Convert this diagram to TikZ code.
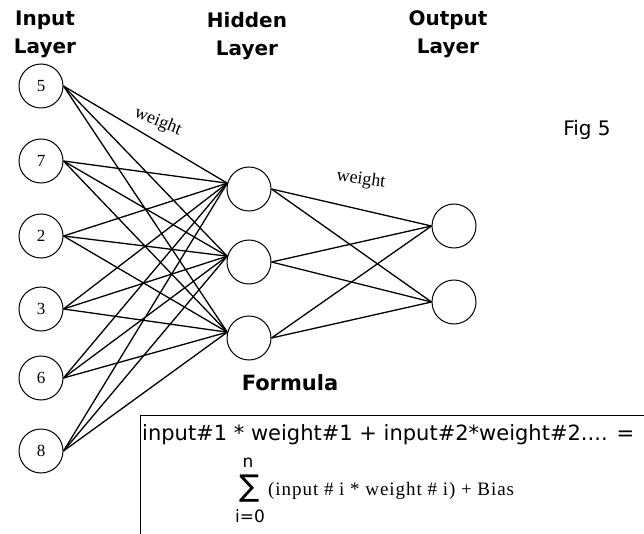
\documentclass[tikz,border=0pt]{standalone}
\usepackage{fontspec}
\setmainfont{Liberation Serif}
\setsansfont{DejaVu Sans}

\begin{document}
\begin{tikzpicture}[
  x=1pt, y=-1pt,
  nn/.style={draw, circle, line width=1pt, minimum size=44pt, inner sep=0pt, font=\fontsize{17}{17}\selectfont},
  hd/.style={align=center, font=\sffamily\bfseries\fontsize{20}{28}\selectfont},
  wt/.style={font=\fontsize{18}{18}\selectfont},
  ln/.style={line width=1.3pt}]

\useasboundingbox (0,0) rectangle (644,534);
\clip (0,0) rectangle (644,534);

% ---------------- headings ----------------
\node[hd] (tin) at (45, 34) {Input\\Layer};
\node[hd] (thid) at (247, 36) {Hidden\\Layer};
\node[hd] (tout) at (448, 34) {Output\\Layer};
\node[font=\sffamily\fontsize{20}{20}\selectfont] (fig) at (587, 130) {Fig 5};

% ---------------- input layer ----------------
\node[nn] (i1) at (41, 86) {5};
\node[nn] (i2) at (41, 161) {7};
\node[nn] (i3) at (41, 236) {2};
\node[nn] (i4) at (41, 309) {3};
\node[nn] (i5) at (41, 378) {6};
\node[nn] (i6) at (41, 451) {8};

% ---------------- hidden layer ----------------
\node[nn] (h1) at (249, 189) {};
\node[nn] (h2) at (249, 262) {};
\node[nn] (h3) at (249, 338) {};

% ---------------- output layer ----------------
\node[nn] (o1) at (454, 226) {};
\node[nn] (o2) at (454, 302) {};

% ---------------- connections ----------------
\foreach \a in {1,...,6}{
  \foreach \b in {1,2,3}{
    \draw[ln] (i\a.east) -- (h\b.165);
  }
}
\foreach \b in {1,2,3}{
  \foreach \c in {1,2}{
    \draw[ln] (h\b.east) -- (o\c.west);
  }
}
\node[wt, rotate=-22] (w1) at (158, 122) {weight};
\node[wt, rotate=-8] (w2) at (361, 180) {weight};

% ---------------- formula ----------------
\node[font=\sffamily\bfseries\fontsize{21}{21}\selectfont] (form) at (290, 383) {Formula};
\draw[line width=1pt] (140, 560) |- (660, 415);
\node[anchor=base west, inner sep=0pt, font=\sffamily\fontsize{21}{21}\selectfont] (f1) at (142, 440)
  {input\#1 * weight\#1 + input\#2*weight\#2.... =};
\node[font=\sffamily\fontsize{30}{30}\selectfont, inner sep=0pt] (sig) at (250, 489) {∑};
\node[font=\sffamily\fontsize{17}{17}\selectfont, inner sep=0pt] (sn) at (248, 463) {n};
\node[font=\sffamily\fontsize{17}{17}\selectfont, inner sep=0pt] (si) at (250, 516) {i=0};
\node[anchor=base west, inner sep=0pt, font=\fontsize{19}{19}\selectfont\addfontfeature{LetterSpace=5}] (f2) at (268, 495)
  {(input \# i * weight \# i) + Bias};
\end{tikzpicture}
\end{document}
